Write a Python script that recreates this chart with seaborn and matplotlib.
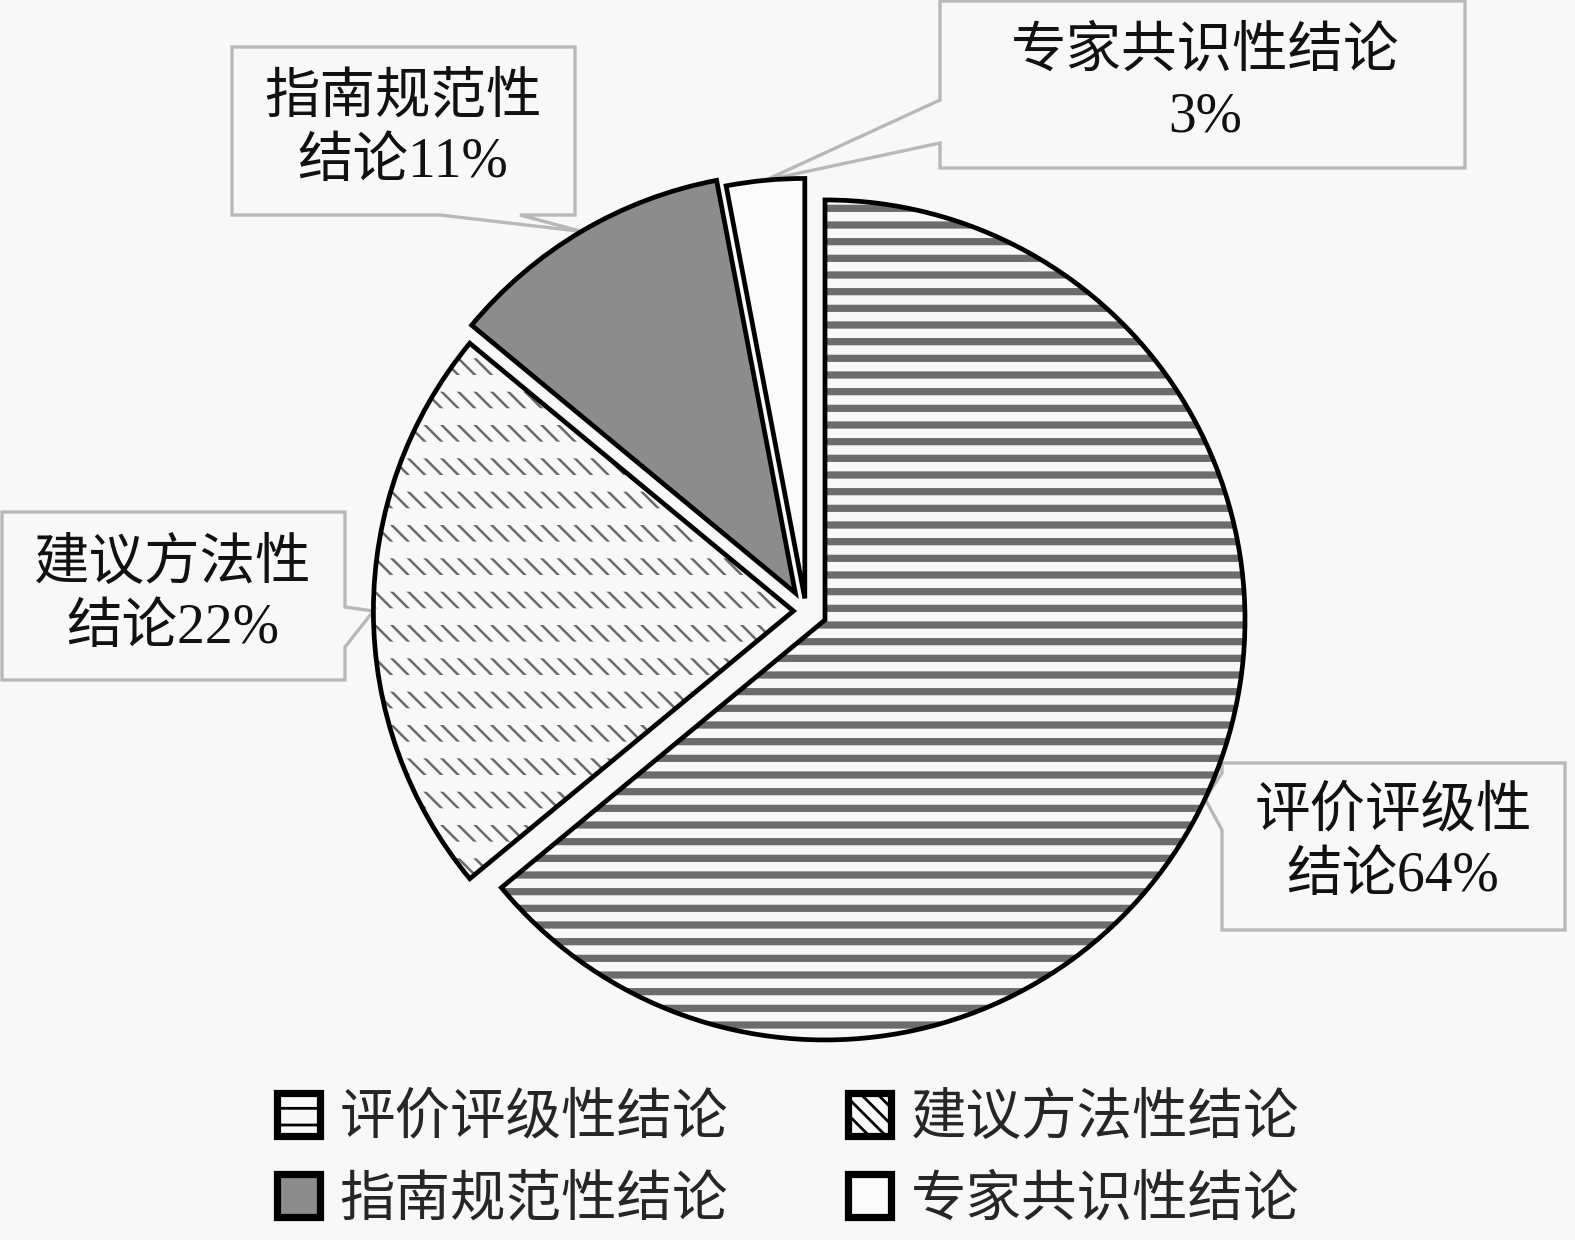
import matplotlib
matplotlib.use('Agg')
import matplotlib.pyplot as plt
from matplotlib.patches import Polygon, Patch, Wedge
import numpy as np
import seaborn as sns

# 数据
categories = ['评价评级性结论', '建议方法性结论', '指南规范性结论', '专家共识性结论']
shares = [64, 22, 11, 3]
callout_texts = ['评价评级性\n结论64%', '建议方法性\n结论22%', '指南规范性\n结论11%', '专家共识性结论\n3%']

sns.set_theme(style='white')
plt.rcParams['font.family'] = ['Liberation Serif', 'Noto Sans CJK SC', 'DejaVu Sans']
plt.rcParams['axes.unicode_minus'] = False

BG = '#f8f8f8'
DPI = 200
W, H = 1575, 1240
CX, CY, R = 806, 611, 420   # 饼图中心和半径（像素）

# 样式
fills = ['#f8f8f8', '#f8f8f8', '#8c8c8c', '#fbfbfb']
hatches = ['--', '\\\\\\\\', None, None]
hatch_cols = ['#6c6c6c', '#6a6a6a', '#8c8c8c', '#fbfbfb']
hatch_lws = [2.6, 0.9, 0.5, 0.5]
explode = [0.05, 0.03, 0.05, 0.03]

# 标注框（像素）：box, 缺口所在边, 缺口范围, 文字中心
callout_layout = [
    ((1222, 763, 1565, 930), 'left', (773, 830), (1393, 845)),
    ((2, 512, 345, 680), 'right', (607, 647), (173, 597)),
    ((232, 47, 575, 215), 'bottom', (440, 520), (403, 131)),
    ((940, 1, 1465, 168), 'left', (100, 143), (1205, 85)),
]


def px(x, y):
    return ((x - CX) / R, (CY - y) / R)


def callout_poly(box, side, notch, apex):
    x0, y0, x1, y1 = box
    a, b = notch
    pts = [px(x0, y0), px(x1, y0)]
    if side == 'right':
        pts += [px(x1, a), apex, px(x1, b)]
    pts.append(px(x1, y1))
    if side == 'bottom':
        pts += [px(b, y1), apex, px(a, y1)]
    pts.append(px(x0, y1))
    if side == 'left':
        pts += [px(x0, b), apex, px(x0, a)]
    return np.array(pts)


fig = plt.figure(figsize=(W / DPI, H / DPI), dpi=DPI, facecolor=BG)
ax = fig.add_axes([0, 0, 1, 1])
ax.set_facecolor(BG)

# 填充层（带阴影线）
wedges, _ = ax.pie(shares, explode=explode, startangle=90, counterclock=False,
                   colors=fills, hatch=hatches,
                   wedgeprops=dict(linewidth=0))
for w, hc, hl in zip(wedges, hatch_cols, hatch_lws):
    w.set_edgecolor(hc)
    w.set_linewidth(0)
    w.set_zorder(3)
    if hasattr(w, 'set_hatch_linewidth'):
        w.set_hatch_linewidth(hl)

# 建议方法性：用背景色横线把斜线切成一行行短划
w = wedges[1]
mask = Wedge(w.center, w.r, w.theta1, w.theta2, fill=False, hatch='-',
             edgecolor=BG, linewidth=0, zorder=3.5)
if hasattr(mask, 'set_hatch_linewidth'):
    mask.set_hatch_linewidth(6.0)
ax.add_patch(mask)

# 轮廓层
outl, _ = ax.pie(shares, explode=explode, startangle=90, counterclock=False,
                 wedgeprops=dict(fill=False, edgecolor='black', linewidth=1.7))
for w in outl:
    w.set_zorder(4)

# 标注框
for w, txt, (box, side, notch, tc) in zip(wedges, callout_texts, callout_layout):
    mid = np.deg2rad((w.theta1 + w.theta2) / 2)
    apex = (w.center[0] + w.r * np.cos(mid), w.center[1] + w.r * np.sin(mid))
    poly = Polygon(callout_poly(box, side, notch, apex), closed=True,
                   facecolor=BG, edgecolor='#b8b8b8', linewidth=1.2, zorder=2)
    ax.add_patch(poly)
    ax.text(*px(*tc), txt, ha='center', va='center', fontsize=20,
            linespacing=1.32, color='#111111', zorder=5)

ax.set_xlim(-CX / R, (W - CX) / R)
ax.set_ylim(-(H - CY) / R, CY / R)
ax.set_aspect('auto')
ax.axis('off')

# 图例
handles = [Patch(facecolor=f, hatch=h, edgecolor='black', linewidth=2.6)
           for f, h in zip(fills, hatches)]
order = [0, 2, 1, 3]
fig.legend([handles[i] for i in order], [categories[i] for i in order],
           ncol=2, loc='center', bbox_to_anchor=(788 / W, 1 - 1160 / H),
           frameon=False, fontsize=20, handlelength=0.78, handleheight=0.8,
           handletextpad=0.35, columnspacing=2.15, labelspacing=0.52)

fig.savefig('out.png', dpi=DPI, facecolor=BG)
